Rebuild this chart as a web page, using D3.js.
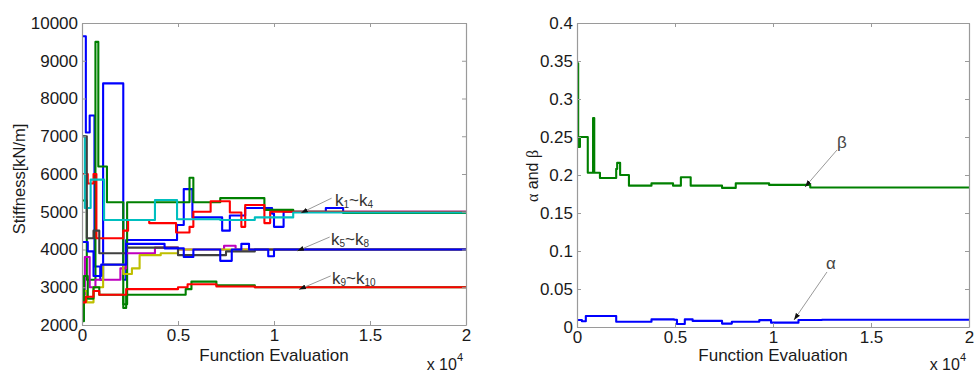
<!DOCTYPE html>
<html>
<head>
<meta charset="utf-8">
<script src="https://cdn.jsdelivr.net/npm/d3@7"></script>
<style>
  body { margin: 0; background: #fff; }
  text { font-family: Arial, "Liberation Sans", sans-serif; }
</style>
</head>
<body>
<svg id="chart" width="976" height="374"></svg>
<script>
// ---- shared x axis (function evaluations) ----
const evalTicks = [0, 5000, 10000, 15000, 20000];
const evalTickLabels = ["0", "0.5", "1", "1.5", "2"];

// ---- left panel: stiffness history, [evaluation, kN/m] change points ----
const stiffTicks = [2000, 3000, 4000, 5000, 6000, 7000, 8000, 9000, 10000];
const stiffTickLabels = ["2000", "3000", "4000", "5000", "6000", "7000", "8000", "9000", "10000"];

const k1 = [[0,9650],[200,7100],[400,7550],[650,3550],[950,3200],[1100,8400],[2150,3200],[2300,4250],
  [4950,4650],[5300,5600],[5750,4850],[7300,4500],[7700,4900],[8500,5100],[9900,4950],[10000,4600],
  [10500,5000],[12700,5100],[13600,5000],[20000,5000]];
const k2 = [[0,5300],[250,3200],[700,9500],[850,6200],[1300,5250],[2150,2550],[2350,5250],[5600,5900],
  [5800,5250],[7200,5360],[9500,5050],[11000,5000],[13600,4970],[20000,4970]];
const k3 = [[0,6000],[300,5750],[600,6000],[750,4300],[2150,4500],[2400,4780],[3500,4700],[4900,4450],
  [5600,4600],[5800,5000],[6700,5280],[7700,4980],[8300,4600],[8500,5180],[9500,4700],[9800,5000],[20000,5000]];
const k4 = [[0,7000],[150,5100],[450,5850],[1150,4780],[3800,5310],[4950,4800],[7200,4780],[9000,4850],
  [11000,4980],[20000,4980]];
const k5 = [[0,2800],[150,3800],[400,3000],[700,3200],[2000,3500],[2300,3900],[3800,4050],[5000,4000],
  [7400,4100],[8000,4000],[20000,4000]];
const k6 = [[0,2900],[250,2600],[600,3000],[1100,3600],[2150,3350],[2600,3500],[3000,3850],[4100,3900],
  [5000,4000],[20000,4000]];
const k7 = [[0,7000],[250,4300],[600,4500],[900,3900],[2300,4050],[5000,3850],[7500,3950],[9000,4000],[20000,4000]];
const k8 = [[0,4200],[300,3950],[600,3300],[1000,3600],[2300,4150],[4300,4030],[5300,3800],[5800,4000],
  [7200,3700],[7800,4000],[8300,4150],[8700,4000],[9700,3820],[10000,4000],[20000,4000]];
const k9 = [[0,2100],[100,3300],[300,2700],[600,3000],[900,2800],[2150,2450],[2300,2800],[5400,2950],
  [5700,3150],[7000,3050],[9000,3000],[20000,3000]];
const k10 = [[0,2600],[200,2750],[600,2900],[900,2800],[2300,2950],[5000,3000],[5500,3080],[7000,3020],
  [9000,3000],[20000,3000]];

const stiffnessSeries = [k1, k2, k3, k4, k5, k6, k7, k8, k9, k10];
const seriesColors = ["#0000ff", "#008000", "#ff0000", "#00bfbf", "#bf00bf", "#bfbf00", "#404040",
                      "#0000ff", "#008000", "#ff0000"];

// ---- right panel: damping coefficients ----
const coefTicks = [0, 0.05, 0.1, 0.15, 0.2, 0.25, 0.3, 0.35, 0.4];
const coefTickLabels = ["0", "0.05", "0.1", "0.15", "0.2", "0.25", "0.3", "0.35", "0.4"];

const beta = [[0,0.347],[60,0.237],[150,0.25],[450,0.25],[550,0.203],[820,0.275],[880,0.203],[1170,0.196],
  [2000,0.208],[2050,0.216],[2200,0.2],[2650,0.186],[3800,0.189],[4900,0.186],[5300,0.197],[5800,0.186],
  [7400,0.183],[8100,0.189],[9800,0.187],[11900,0.1835],[20000,0.183]];
const alpha = [[0,0.0092],[250,0.0075],[450,0.0145],[2000,0.007],[3800,0.010],[4950,0.0095],[5100,0.004],
  [5500,0.010],[5900,0.008],[7400,0.0045],[7900,0.007],[9300,0.009],[9900,0.0057],[11300,0.0092],
  [12500,0.0095],[20000,0.0095]];

// ---- annotations: label position, leader start, arrow tip (data units) ----
const stiffNotes = [
  { sub: ["1", "4"],  text: [13180, 5150], from: [13000, 5360], tip: [11400, 4967] },
  { sub: ["5", "8"],  text: [12970, 4120], from: [12900, 4330], tip: [11200, 3960] },
  { sub: ["9", "10"], text: [13020, 3090], from: [12950, 3300], tip: [11300, 2940] }
];
const coefNotes = [
  { label: "β", text: [13520, 0.2355], from: [13265, 0.2329], tip: [11633, 0.1842] },
  { label: "α", text: [12960, 0.0763], from: [12755, 0.0724], tip: [11071, 0.0092] }
];

const svg = d3.select("#chart");
const defs = svg.append("defs");
defs.append("marker")
  .attr("id", "head").attr("viewBox", "0 0 10 10")
  .attr("refX", 10).attr("refY", 5)
  .attr("markerWidth", 7).attr("markerHeight", 7)
  .attr("orient", "auto")
  .append("path").attr("d", "M0,1.5L10,5L0,8.5Z").attr("fill", "#111");

function panel(cfg) {
  const x = d3.scaleLinear().domain([0, 20000]).range([cfg.x0, cfg.x1]);
  const y = d3.scaleLinear().domain(cfg.yDomain).range([cfg.y1, cfg.y0]);
  const g = svg.append("g");

  const clipId = "clip" + cfg.x0;
  defs.append("clipPath").attr("id", clipId).append("rect")
    .attr("x", cfg.x0).attr("y", cfg.y0).attr("width", cfg.x1 - cfg.x0).attr("height", cfg.y1 - cfg.y0);

  const line = d3.line().x(d => x(d[0])).y(d => y(d[1])).curve(d3.curveStepAfter);
  const lines = g.append("g").attr("clip-path", `url(#${clipId})`);
  cfg.series.forEach((s, i) => {
    lines.append("path").attr("d", line(s)).attr("fill", "none")
      .attr("stroke", cfg.colors[i]).attr("stroke-width", 2.1)
      .attr("stroke-linejoin", "round");
  });

  const styleAxis = sel => {
    sel.select(".domain").attr("stroke", "#9a9a9a").attr("stroke-width", 1.2);
    sel.selectAll(".tick line").attr("stroke", "#9a9a9a");
    sel.selectAll("text").attr("font-size", 17).attr("fill", "#1a1a1a")
      .attr("font-family", "Arial, 'Liberation Sans', sans-serif");
  };
  g.append("g").attr("transform", `translate(0,${cfg.y1})`)
    .call(d3.axisBottom(x).tickValues(evalTicks).tickFormat((d, i) => evalTickLabels[i])
      .tickSizeInner(-4).tickSizeOuter(0).tickPadding(4))
    .call(styleAxis);
  g.append("g").attr("transform", `translate(0,${cfg.y0})`)
    .call(d3.axisTop(x).tickValues(evalTicks).tickFormat("").tickSizeInner(-4).tickSizeOuter(0))
    .call(styleAxis);
  g.append("g").attr("transform", `translate(${cfg.x0},0)`)
    .call(d3.axisLeft(y).tickValues(cfg.yTicks).tickFormat((d, i) => cfg.yTickLabels[i])
      .tickSizeInner(-4).tickSizeOuter(0).tickPadding(4))
    .call(styleAxis);
  g.append("g").attr("transform", `translate(${cfg.x1},0)`)
    .call(d3.axisRight(y).tickValues(cfg.yTicks).tickFormat("").tickSizeInner(-4).tickSizeOuter(0))
    .call(styleAxis);

  // x label and exponent
  g.append("text").attr("x", (cfg.x0 + cfg.x1) / 2).attr("y", 361)
    .attr("text-anchor", "middle").attr("font-size", 17).attr("fill", "#1a1a1a")
    .text("Function Evaluation");
  const ex = g.append("text").attr("x", cfg.x1 - 3).attr("y", 370)
    .attr("text-anchor", "end").attr("font-size", 16).attr("fill", "#1a1a1a");
  ex.append("tspan").text("x 10");
  ex.append("tspan").attr("font-size", 11).attr("dy", -9).text("4");

  return { x, y, g };
}

// left panel
const L = panel({
  x0: 82, x1: 466, y0: 23, y1: 325,
  yDomain: [2000, 10000], yTicks: stiffTicks, yTickLabels: stiffTickLabels,
  series: stiffnessSeries, colors: seriesColors
});
L.g.append("text").attr("transform", "translate(25,179) rotate(-90)")
  .attr("text-anchor", "middle").attr("font-size", 16.5).attr("fill", "#1a1a1a")
  .text("Stiffness[kN/m]");
stiffNotes.forEach(n => {
  L.g.append("line")
    .attr("x1", L.x(n.from[0])).attr("y1", L.y(n.from[1]))
    .attr("x2", L.x(n.tip[0])).attr("y2", L.y(n.tip[1]))
    .attr("stroke", "#999").attr("stroke-width", 1).attr("marker-end", "url(#head)");
  const t = L.g.append("text").attr("x", L.x(n.text[0])).attr("y", L.y(n.text[1]))
    .attr("font-size", 17).attr("fill", "#333");
  t.append("tspan").text("k");
  t.append("tspan").attr("font-size", 10).attr("dy", 2).text(n.sub[0]);
  t.append("tspan").attr("dy", -2).text("~k");
  t.append("tspan").attr("font-size", 10).attr("dy", 2).text(n.sub[1]);
});

// right panel
const R = panel({
  x0: 577, x1: 969, y0: 23, y1: 327,
  yDomain: [0, 0.4], yTicks: coefTicks, yTickLabels: coefTickLabels,
  series: [beta, alpha], colors: ["#008000", "#0000ff"]
});
const yl = R.g.append("text").attr("transform", "translate(538,176) rotate(-90)")
  .attr("text-anchor", "middle").attr("font-size", 16).attr("fill", "#1a1a1a");
yl.append("tspan").attr("font-family", "'Liberation Serif', 'Times New Roman', serif").text("α");
yl.append("tspan").text(" and ");
yl.append("tspan").attr("font-family", "'Liberation Serif', 'Times New Roman', serif").text("β");
coefNotes.forEach(n => {
  R.g.append("line")
    .attr("x1", R.x(n.from[0])).attr("y1", R.y(n.from[1]))
    .attr("x2", R.x(n.tip[0])).attr("y2", R.y(n.tip[1]))
    .attr("stroke", "#999").attr("stroke-width", 1).attr("marker-end", "url(#head)");
  R.g.append("text").attr("x", R.x(n.text[0])).attr("y", R.y(n.text[1]))
    .attr("text-anchor", "middle").attr("font-size", 17).attr("fill", "#444")
    .attr("font-family", "'Liberation Serif', 'Times New Roman', serif")
    .text(n.label);
});
</script>
</body>
</html>
